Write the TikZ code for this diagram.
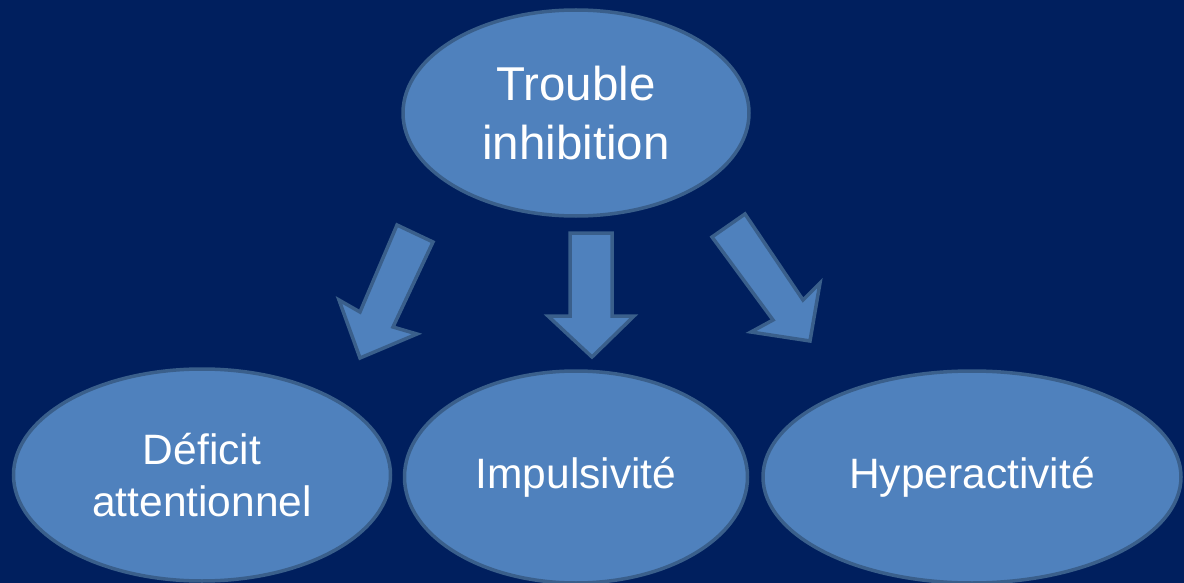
\documentclass[tikz,border=0pt]{standalone}
\usepackage{fontspec}
\setmainfont{Liberation Sans}
\usetikzlibrary{shapes.geometric}
\definecolor{bgnavy}{HTML}{001F5E}
\definecolor{ellfill}{HTML}{4F81BD}
\definecolor{ellline}{HTML}{3A5F8B}
\tikzset{
  ell/.style={ellipse, draw=ellline, fill=ellfill, line width=3.5pt, inner sep=0pt,
    text=white, align=center},
  blockarrow/.style={draw=ellline, fill=ellfill, line width=3.5pt, line join=miter},
}
\begin{document}
\begin{tikzpicture}[x=1pt,y=-1pt]
\useasboundingbox (0,0) rectangle (1184,583);
\fill[bgnavy] (0,0) rectangle (1184,583);
\node[ell, minimum width=346, minimum height=206, font=\fontsize{47.5}{59}\selectfont] (top) at (576,113) {Trouble\\inhibition};
\node[ell, minimum width=377, minimum height=212, font=\fontsize{42.5}{52}\selectfont] (def) at (202,475) {Déficit\\attentionnel};
\node[ell, minimum width=343, minimum height=212, font=\fontsize{42.5}{52}\selectfont] (imp) at (576,477) {Impulsivité};
\node[ell, minimum width=418, minimum height=212, font=\fontsize{42.5}{52}\selectfont] (hyp) at (972,477) {Hyperactivité};
% block arrows
\draw[blockarrow] (397,225) -- (433,242) -- (393,327) -- (417,334) -- (360,358) -- (339,300) -- (360,312) -- cycle;
\draw[blockarrow] (570,233) -- (612,233) -- (612,316) -- (634,316) -- (592,357) -- (548,316) -- (570,316) -- cycle;
\draw[blockarrow] (712,237) -- (745,214) -- (803,300) -- (820,283) -- (810,341) -- (751,332) -- (773,320) -- cycle;
\end{tikzpicture}
\end{document}
